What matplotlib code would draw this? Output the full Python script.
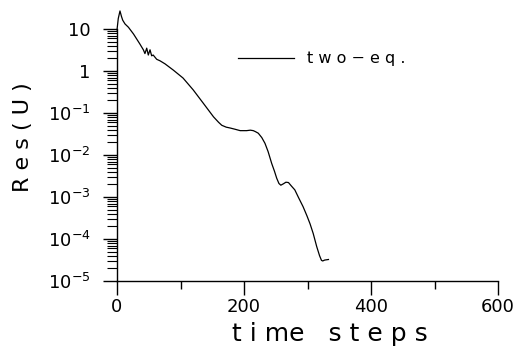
import matplotlib
matplotlib.use("Agg")
import matplotlib.pyplot as plt
from matplotlib.ticker import FixedLocator, LogLocator, NullFormatter

# residual history
steps = [0, 2, 4.7, 7, 9, 12.6, 18, 26, 36, 41.5, 44, 46.8, 49.3, 52, 54.6,
         57, 62.5, 67.7, 75.6, 88.7, 104, 120, 136, 152, 160, 165, 172, 178,
         186, 194, 204, 210, 214.6, 218, 222.5, 228, 233, 238, 243.6, 248,
         251.5, 255, 258, 262, 266, 270, 275, 280, 286, 293, 299, 304, 309,
         314.5, 319, 322, 324, 327, 333]
res = [9.5, 17.8, 26.9, 20.0, 16.2, 13.2, 11.0, 7.6, 4.4, 3.2, 2.6, 3.5,
       2.4, 3.2, 2.3, 2.4, 1.9, 1.75, 1.48, 1.05, 0.68, 0.355, 0.17, 0.081,
       0.060, 0.051, 0.046, 0.044, 0.041, 0.038, 0.038, 0.039, 0.038, 0.036,
       0.033, 0.026, 0.019, 0.012, 0.0063, 0.0041, 0.0028, 0.0021, 0.00191,
       0.00206, 0.00225, 0.00221, 0.0018, 0.00148, 0.00096, 0.00059,
       0.00036, 0.00023, 0.000135, 6.6e-5, 4.0e-5, 3.1e-5, 3.0e-5, 3.15e-5,
       3.25e-5]

series_label = "t w o \u2212 e q ."
x_ticks = [0, 200, 400, 600]
x_minor = [100, 300, 500]
y_ticks = [1e-5, 1e-4, 1e-3, 1e-2, 1e-1, 1, 10]
y_labels = ["10$^{-5}$", "10$^{-4}$", "10$^{-3}$", "10$^{-2}$", "10$^{-1}$", "1", "10"]

fig = plt.figure(figsize=(5.29, 3.54), dpi=100)
ax = fig.add_axes([117 / 529, 73 / 354, 381 / 529, 252 / 354])

ax.plot(steps, res, color="black", lw=0.9, clip_on=False, label=series_label)

ax.set_yscale("log")
ax.set_xlim(0, 600)
ax.set_ylim(1e-5, 10)

ax.xaxis.set_major_locator(FixedLocator(x_ticks))
ax.xaxis.set_minor_locator(FixedLocator(x_minor))
ax.set_xticklabels([str(v) for v in x_ticks])
ax.yaxis.set_major_locator(FixedLocator(y_ticks))
ax.set_yticklabels(y_labels)
ax.yaxis.set_minor_locator(LogLocator(base=10, subs=range(2, 10), numticks=20))
ax.yaxis.set_minor_formatter(NullFormatter())

for side in ["top", "right"]:
    ax.spines[side].set_visible(False)
for side in ["left", "bottom"]:
    ax.spines[side].set_linewidth(1.0)

ax.tick_params(axis="x", which="major", length=10, width=1.0, pad=2, labelsize=13)
ax.tick_params(axis="x", which="minor", length=6, width=1.0)
ax.tick_params(axis="y", which="major", length=10, width=1.0, pad=9, labelsize=13)
ax.tick_params(axis="y", which="minor", length=7, width=0.8)

ax.set_xlabel("t i me   s t e p s", fontsize=18)
ax.xaxis.set_label_coords(0.56, -0.163)
ax.set_ylabel("R e s ( U )", fontsize=16)
ax.yaxis.set_label_coords(-0.22, 0.571)

ax.legend(loc="center left", bbox_to_anchor=(0.318, 0.881), frameon=False,
          fontsize=11.5, handlelength=3.5, handletextpad=0.8, borderpad=0,
          borderaxespad=0)

fig.savefig("out.png", dpi=100)
